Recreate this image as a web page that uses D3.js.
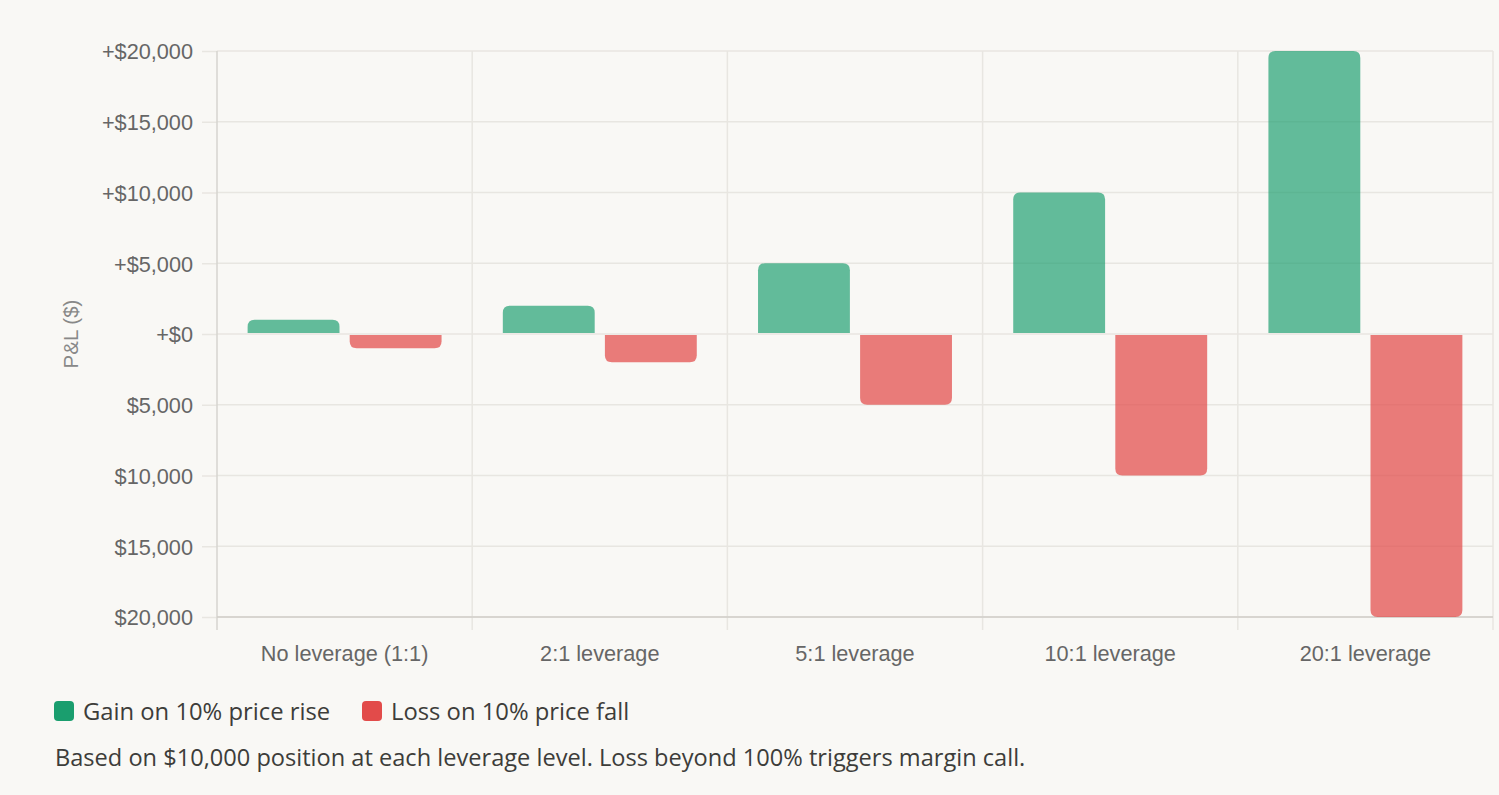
<!DOCTYPE html>
<meta charset="utf-8">
<style>
body{
	margin:0;
	background:#f9f8f5;
}
svg{
	display:block;
}
.tick text{
	font-family:"Liberation Sans",Arial,sans-serif;
	font-size:21.7px;
	fill:#666;
}
.legend text, .note{
	font-family:"Open Sans",sans-serif;
	fill:#3d3d3a;
}
</style>
<body>
<script src="https://cdn.jsdelivr.net/npm/d3@7"></script>
<script>

var categories=["No leverage (1:1)","2:1 leverage","5:1 leverage","10:1 leverage","20:1 leverage"];
var gain=[1000,2000,5000,10000,20000];
var loss=[-1000,-2000,-5000,-10000,-20000];
var yTicks=[20000,15000,10000,5000,0,-5000,-10000,-15000,-20000];
var seriesNames=["Gain on 10% price rise","Loss on 10% price fall"];
var seriesColors=["#1a9e6e","#e24b4a"];
var barOpacity=[0.68,0.72];

var W=1499, H=795;
var mLeft=217, mRight=1493, mTop=51, mBottom=617;

var svg=d3.select("body").append("svg").attr("width",W).attr("height",H);

var x=d3.scaleBand().domain(categories).range([mLeft,mRight]);
var y=d3.scaleLinear().domain([-20000,20000]).range([mBottom,mTop]);

var fmt=d3.format(",");
function money(v){ return v>=0 ? "+$"+fmt(v) : "$"+fmt(-v); }

// horizontal grid + y ticks
var ya=svg.append("g").attr("transform","translate("+mLeft+",0)")
	.call(d3.axisLeft(y).tickValues(yTicks).tickFormat(money).tickSize(15).tickPadding(9));
ya.select(".domain").remove();
ya.selectAll(".tick line").attr("stroke","#e8e6e1").attr("stroke-width",1.5);
ya.selectAll(".tick text").attr("dy","0.36em");
svg.append("g").selectAll("line").data(yTicks).join("line")
	.attr("x1",mLeft).attr("x2",mRight)
	.attr("y1",d=>y(d)).attr("y2",d=>y(d))
	.attr("stroke","#e8e6e1").attr("stroke-width",1.5);

// vertical grid at category edges
var edges=categories.map(c=>x(c)).concat([mRight]);
svg.append("g").selectAll("line").data(edges).join("line")
	.attr("x1",d=>d).attr("x2",d=>d)
	.attr("y1",mTop).attr("y2",mBottom+13)
	.attr("stroke",(d,i)=>i==0?"#d6d4cf":"#e8e6e1").attr("stroke-width",1.5);
svg.append("line").attr("x1",mLeft).attr("x2",mRight).attr("y1",mBottom).attr("y2",mBottom)
	.attr("stroke","#d0cec9").attr("stroke-width",1.5);

// x labels
var xa=svg.append("g").attr("transform","translate(0,"+mBottom+")")
	.call(d3.axisBottom(x).tickSize(0).tickPadding(29));
xa.select(".domain").remove();

svg.append("text")
	.attr("transform","translate(78,"+((mTop+mBottom)/2)+") rotate(-90)")
	.attr("text-anchor","middle")
	.style("font-family","Liberation Sans, Arial, sans-serif")
	.style("font-size","20.5px").style("fill","#888")
	.text("P&L ($)");

// bars, rounded at the far end
function barPath(x0,w,v0,v1,r){
	var ya0=y(v0), ya1=y(v1);
	if(v1>=v0){
		var t=ya1, b=ya0-1;
		return "M"+x0+","+b+"V"+(t+r)+"Q"+x0+","+t+" "+(x0+r)+","+t+
			"H"+(x0+w-r)+"Q"+(x0+w)+","+t+" "+(x0+w)+","+(t+r)+"V"+b+"Z";
	}else{
		var t2=ya0+1, b2=ya1;
		return "M"+x0+","+t2+"V"+(b2-r)+"Q"+x0+","+b2+" "+(x0+r)+","+b2+
			"H"+(x0+w-r)+"Q"+(x0+w)+","+b2+" "+(x0+w)+","+(b2-r)+"V"+t2+"Z";
	}
}
var slot=x.bandwidth()*0.8/2, bw=slot*0.9;
[gain,loss].forEach(function(vals,si){
	svg.append("g").selectAll("path").data(vals).join("path")
		.attr("d",function(v,i){
			var x0=x(categories[i])+x.bandwidth()*0.1+si*slot+(slot-bw)/2;
			return barPath(x0,bw,0,v,Math.min(7,Math.abs(y(v)-y(0))/2));
		})
		.attr("fill",seriesColors[si]).attr("fill-opacity",barOpacity[si]);
});

// legend
var lg=svg.append("g").attr("class","legend");
var lx=[54,362];
seriesNames.forEach(function(n,i){
	lg.append("rect").attr("x",lx[i]).attr("y",701).attr("width",20).attr("height",20)
		.attr("rx",4).attr("fill",seriesColors[i]);
	lg.append("text").attr("x",lx[i]+29).attr("y",720).style("font-size","23.8px").text(n);
});
svg.append("text").attr("class","note").attr("x",55).attr("y",766).style("font-size","23.6px")
	.text("Based on $10,000 position at each leverage level. Loss beyond 100% triggers margin call.");
</script>
</body>
